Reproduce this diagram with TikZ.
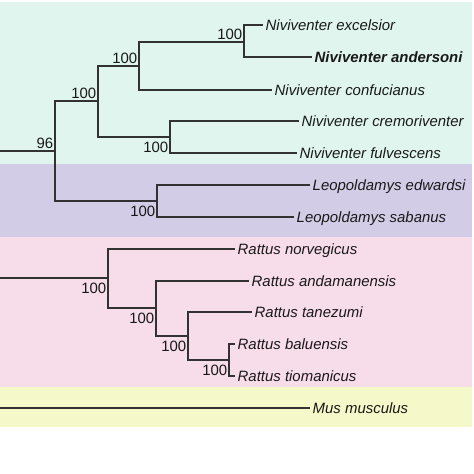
\documentclass[tikz,border=0pt]{standalone}
\usepackage{fontspec}
\setmainfont{Liberation Sans}
\usepackage{xcolor}
\usepackage{tikz}
\usetikzlibrary{positioning}
\definecolor{bandgreen}{RGB}{224, 245, 238}
\definecolor{bandpurple}{RGB}{211, 204, 230}
\definecolor{bandpink}{RGB}{247, 220, 234}
\definecolor{bandyellow}{RGB}{245, 248, 200}
\definecolor{branchgray}{RGB}{50, 50, 50}
\tikzstyle{branch} = [
    line width=1.4pt,
    color=branchgray
]
\tikzstyle{leaf} = [
    anchor=west,
    inner xsep=2.5pt,
    inner ysep=0pt,
    text height=11pt,
    text depth=0pt,
    text=black!90,
    font=\fontsize{15}{18}\selectfont\itshape
]
\tikzstyle{bootup} = [
    anchor=base east,
    inner sep=0pt,
    xshift=-1.5pt,
    yshift=3pt,
    text=black!90,
    font=\fontsize{15}{18}\selectfont
]
\tikzstyle{bootdown} = [
    bootup,
    yshift=-19pt
]
\begin{document}
\begin{tikzpicture}[x=1bp, y=-1bp]
        \useasboundingbox (0,0) rectangle (474,474);
        % Bands
        \fill[bandgreen] (0,2) rectangle (472,164);
        \fill[bandpurple] (0,164) rectangle (472,236.5);
        \fill[bandpink] (0,236.5) rectangle (472,387);
        \fill[bandyellow] (0,387) rectangle (472,427);

        % Niviventer + Leopoldamys
        \coordinate (root1) at (0,151);
        \coordinate (nA) at (55,151);
        \coordinate (nB) at (98,101);
        \coordinate (nC) at (139,66);
        \coordinate (nD) at (244,42);
        \coordinate (nE) at (170,137);
        \coordinate (nF) at (157,201);
        \node[leaf] (excelsior) at (263,25) {Niviventer excelsior};
        \node[leaf, font=\fontsize{15}{18}\selectfont\bfseries\itshape] (andersoni) at (312,57) {Niviventer andersoni};
        \node[leaf] (confucianus) at (272,90) {Niviventer confucianus};
        \node[leaf] (cremoriventer) at (299,121) {Niviventer cremoriventer};
        \node[leaf] (fulvescens) at (297,153) {Niviventer fulvescens};
        \node[leaf] (edwardsi) at (310,185) {Leopoldamys edwardsi};
        \node[leaf] (sabanus) at (294,217) {Leopoldamys sabanus};

        % Rattus
        \coordinate (root2) at (0,278);
        \coordinate (rA) at (108,278);
        \coordinate (rB) at (156,308);
        \coordinate (rC) at (188,336);
        \coordinate (rD) at (229,360);
        \node[leaf] (norvegicus) at (235,249) {Rattus norvegicus};
        \node[leaf] (andamanensis) at (249,281) {Rattus andamanensis};
        \node[leaf] (tanezumi) at (252,312) {Rattus tanezumi};
        \node[leaf] (baluensis) at (235,344) {Rattus baluensis};
        \node[leaf] (tiomanicus) at (235,376) {Rattus tiomanicus};

        % Outgroup
        \coordinate (root3) at (0,408);
        \node[leaf] (musculus) at (310,408) {Mus musculus};

        % Branches
        \draw[branch] (root1) -- (nA);
        \draw[branch] (nA) |- (nB);
        \draw[branch] (nA) |- (nF);
        \draw[branch] (nB) |- (nC);
        \draw[branch] (nB) |- (nE);
        \draw[branch] (nC) |- (nD);
        \draw[branch] (nC) |- (confucianus.west);
        \draw[branch] (nD) |- (excelsior.west);
        \draw[branch] (nD) |- (andersoni.west);
        \draw[branch] (nE) |- (cremoriventer.west);
        \draw[branch] (nE) |- (fulvescens.west);
        \draw[branch] (nF) |- (edwardsi.west);
        \draw[branch] (nF) |- (sabanus.west);
        \draw[branch] (root2) -- (rA);
        \draw[branch] (rA) |- (norvegicus.west);
        \draw[branch] (rA) |- (rB);
        \draw[branch] (rB) |- (andamanensis.west);
        \draw[branch] (rB) |- (rC);
        \draw[branch] (rC) |- (tanezumi.west);
        \draw[branch] (rC) |- (rD);
        \draw[branch] (rD) |- (baluensis.west);
        \draw[branch] (rD) |- (tiomanicus.west);
        \draw[branch] (root3) -- (musculus.west);

        % Bootstrap values
        \node[bootup] (bA) at (nA) {96};
        \node[bootup] (bB) at (nB) {100};
        \node[bootup] (bC) at (nC) {100};
        \node[bootup] (bD) at (nD) {100};
        \node[bootdown] (bE) at (nE) {100};
        \node[bootdown] (bF) at (nF) {100};
        \node[bootdown] (bRA) at (rA) {100};
        \node[bootdown] (bRB) at (rB) {100};
        \node[bootdown] (bRC) at (rC) {100};
        \node[bootdown] (bRD) at (rD) {100};
    \end{tikzpicture}
\end{document}
